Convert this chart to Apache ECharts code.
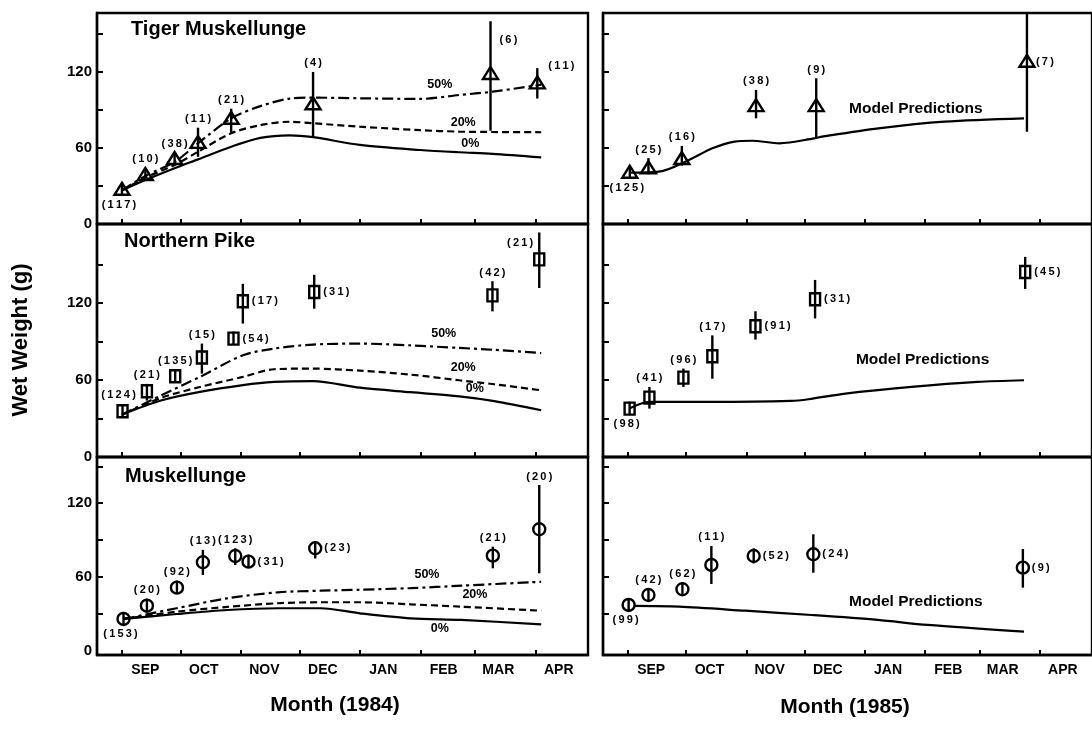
<!DOCTYPE html>
<html>
<head>
<meta charset="utf-8">
<script src="https://cdn.jsdelivr.net/npm/echarts@6/dist/echarts.min.js"></script>
<style>
  html, body { margin: 0; background: #fff; }
  #chart { width: 1092px; height: 741px; }
</style>
</head>
<body>
<div id="chart"></div>
<script>
// x is days after 1 September
const MONTHS = ['SEP', 'OCT', 'NOV', 'DEC', 'JAN', 'FEB', 'MAR', 'APR'];
const MONTH_START = [0, 30, 61, 91, 122, 153, 181, 212];
const MONTH_LABEL_DAY = [12, 42, 73, 103, 134, 165, 193, 224];
const Y_LABELS = [0, 60, 120];
const Y_TICKS = [30, 60, 90, 120, 150];

// Tiger muskellunge 1984
const tigerDays84 = [0, 12, 27, 39, 56, 98, 189, 213];
const tigerWt84 = [27, 38.7, 51.3, 64, 83, 94.5, 118.4, 111];
const tigerLo84 = [27, 37, 49, 53, 72, 68, 73.6, 99];
const tigerHi84 = [27, 40, 53, 76, 91, 120, 160, 123];
const tigerN84 = [117, 10, 38, 11, 21, 4, 6, 11];
const tigerCurveDays84 = [0, 12, 27, 39, 56, 71, 86, 98, 122, 153, 173, 190, 215];
const tiger0 = [26.5, 34.7, 44, 51, 61, 68, 70, 68.5, 62.4, 58.4, 56.6, 55.4, 52.6];
const tiger20 = [26.5, 36.5, 46.6, 57, 71.6, 78, 80.7, 79.5, 76.8, 74, 72.9, 72.6, 72.4];
const tiger50 = [26.5, 38, 49, 63.7, 83.4, 93, 99, 99.7, 99.2, 98.7, 101.8, 104.4, 110];

// Tiger muskellunge 1985
const tigerDays85 = [1, 10.6, 27.8, 66, 97, 205.5];
const tigerWt85 = [40.5, 44, 51.3, 93, 93, 128];
const tigerLo85 = [40.5, 42, 46, 83.4, 67.6, 72.8];
const tigerHi85 = [40.5, 52, 61.6, 105.8, 115, 175];
const tigerN85 = [125, 25, 16, 38, 9, 7];
const tigerCurveDays85 = [1, 16, 31.5, 43.5, 55, 64, 78, 96, 100, 129, 163, 204];
const tigerModel85 = [40.5, 41.3, 50.5, 59.7, 65, 65.7, 63.7, 67.6, 68.9, 75.5, 80.8, 83.4];

// Northern pike 1984
const pikeDays84 = [0.3, 12.8, 27.3, 41, 57.2, 62, 98.6, 190, 214];
const pikeWt84 = [35.6, 51.2, 62.9, 77.5, 92.3, 121.4, 128.6, 126, 154];
const pikeLo84 = [35.6, 44, 62.9, 65, 92.3, 104, 115.6, 113.5, 131.7];
const pikeHi84 = [35.6, 57, 62.9, 88.4, 92.3, 135, 142, 137, 175];
const pikeN84 = [124, 21, 135, 15, 54, 17, 31, 42, 21];
const pikeCurveDays84 = [0, 20, 40, 62, 78, 98, 122, 148, 173, 191, 215];
const pike0 = [33, 44, 50.7, 56, 58.5, 59.2, 54, 50.5, 47.3, 43.6, 36.4];
const pike20 = [33, 46, 54.6, 62.4, 68.4, 68.9, 67.3, 64.2, 59.8, 56.7, 52];
const pike50 = [33, 48, 62.4, 79.3, 84.5, 87.6, 88.4, 87, 85, 83.5, 81];

// Northern pike 1985
const pikeDays85 = [0.9, 11.1, 28.6, 43.5, 65.7, 96.4, 204.6];
const pikeWt85 = [37.7, 46.3, 61.9, 78.5, 101.9, 122.9, 144.2];
const pikeLo85 = [37.7, 37.7, 54.6, 61, 91.5, 108, 131];
const pikeHi85 = [37.7, 54.6, 68.9, 94.8, 113.6, 138, 156];
const pikeN85 = [98, 41, 96, 17, 91, 31, 45];
const pikeCurveDays85 = [1, 11, 43.5, 84, 93, 112, 146, 180, 204];
const pikeModel85 = [38, 43, 42.9, 43.7, 45, 49.4, 54.6, 58.5, 59.8];

// Muskellunge 1984
const muskyDays84 = [0.8, 12.8, 28.2, 41.5, 58.1, 64.9, 99.1, 190.2, 214];
const muskyWt84 = [25.7, 36.5, 51.2, 71.9, 77, 72.4, 83.3, 77.3, 98.8];
const muskyLo84 = [25.7, 34, 49, 61.5, 69.7, 70, 75, 67, 62.9];
const muskyHi84 = [25.7, 39, 53.5, 82, 83.3, 75, 87.4, 84.6, 134.9];
const muskyN84 = [153, 20, 92, 13, 123, 31, 23, 21, 20];
const muskyCurveDays84 = [1, 28, 54, 80, 102, 122, 148, 174, 215];
const musky0 = [25.7, 29.7, 33, 34.4, 34.4, 30.3, 26.2, 24.9, 21.3];
const musky20 = [25.7, 31.6, 35.5, 38.5, 39.3, 39.3, 37.6, 35.7, 32.4];
const musky50 = [25.7, 34.4, 42.5, 47.4, 48.7, 49.5, 50.8, 52.8, 56];

// Muskellunge 1985
const muskyDays85 = [0.4, 10.6, 28.1, 43, 64.8, 95.5, 203.4];
const muskyWt85 = [37.1, 45.2, 49.9, 69.7, 77, 78.4, 67.5];
const muskyLo85 = [37.1, 43, 48, 54.2, 71, 63.4, 51.2];
const muskyHi85 = [37.1, 47.5, 52, 85.2, 83.3, 94.7, 82.7];
const muskyN85 = [99, 42, 62, 11, 52, 24, 9];
const muskyCurveDays85 = [3.4, 26.4, 60.5, 94.6, 128.7, 154.3, 204];
const muskyModel85 = [36.3, 35.7, 32.4, 28.9, 24.9, 20.8, 15.3];

// curve tags: [text, day, weight]
const tigerNotes84 = [['50%', 163, 109.7], ['20%', 175, 80], ['0%', 178.6, 63.7]];
const pikeNotes84 = [['50%', 165, 96.4], ['20%', 175, 69.6], ['0%', 181, 53.5]];
const muskyNotes84 = [['50%', 156.4, 61.5], ['20%', 181, 45.2], ['0%', 163, 18.1]];
const tigerNotes85 = [['Model Predictions', 148.3, 91.3]];
const pikeNotes85 = [['Model Predictions', 151.8, 75.6]];
const muskyNotes85 = [['Model Predictions', 148.3, 39.8]];

// ---- layout & style ----
const FONT = '"Liberation Sans", Arial, Helvetica, sans-serif';
const cols = [{ left: 97, width: 491 }, { left: 603, width: 492 }];
const rows = [
  { top: 13, height: 211, min: 0, max: 166.5 },
  { top: 224, height: 233, min: 0, max: 181.6 },
  { top: 457, height: 198, min: -3.7, max: 157.7 }
];
const LINE_TYPES = ['solid', [7, 4], [11, 4, 3, 4]];

const panels = [
  { row: 0, col: 0, marker: 'triangle', days: tigerDays84, wt: tigerWt84, lo: tigerLo84, hi: tigerHi84, n: tigerN84,
    pos: ['bottom', 'top', 'top', 'top', 'top', 'top', 'topright', 'upright'],
    cDays: tigerCurveDays84, curves: [tiger0, tiger20, tiger50], notes: tigerNotes84 },
  { row: 0, col: 1, marker: 'triangle', days: tigerDays85, wt: tigerWt85, lo: tigerLo85, hi: tigerHi85, n: tigerN85,
    pos: ['bottom', 'top', 'top', 'top', 'top', 'right'],
    cDays: tigerCurveDays85, curves: [tigerModel85], notes: tigerNotes85 },
  { row: 1, col: 0, marker: 'square', days: pikeDays84, wt: pikeWt84, lo: pikeLo84, hi: pikeHi84, n: pikeN84,
    pos: ['topleft', 'top', 'top', 'top', 'right', 'right', 'right', 'top', 'lefttop'],
    cDays: pikeCurveDays84, curves: [pike0, pike20, pike50], notes: pikeNotes84 },
  { row: 1, col: 1, marker: 'square', days: pikeDays85, wt: pikeWt85, lo: pikeLo85, hi: pikeHi85, n: pikeN85,
    pos: ['bottom', 'top', 'top', 'top', 'right', 'right', 'right'],
    cDays: pikeCurveDays85, curves: [pikeModel85], notes: pikeNotes85 },
  { row: 2, col: 0, marker: 'circle', days: muskyDays84, wt: muskyWt84, lo: muskyLo84, hi: muskyHi84, n: muskyN84,
    pos: ['bottom', 'top', 'top', 'top', 'top', 'right', 'right', 'top', 'top'],
    cDays: muskyCurveDays84, curves: [musky0, musky20, musky50], notes: muskyNotes84 },
  { row: 2, col: 1, marker: 'circle', days: muskyDays85, wt: muskyWt85, lo: muskyLo85, hi: muskyHi85, n: muskyN85,
    pos: ['bottom', 'top', 'top', 'top', 'right', 'right', 'right'],
    cDays: muskyCurveDays85, curves: [muskyModel85], notes: muskyNotes85 }
];

// the original typesetting spaces out the sample sizes
function spaced(s) { return String(s).split('').join('\u2009'); }

function markerShape(kind, x, y) {
  const st = { fill: null, stroke: '#000', lineWidth: 2.4 };
  if (kind === 'triangle') {
    return { type: 'polygon', shape: { points: [[x, y - 7], [x - 7.5, y + 5], [x + 7.5, y + 5]] }, style: st };
  }
  if (kind === 'square') {
    return { type: 'rect', shape: { x: x - 5, y: y - 6, width: 10, height: 12 }, style: st };
  }
  return { type: 'circle', shape: { cx: x, cy: y, r: 6 }, style: st };
}

function pointRenderer(p) {
  return function (params, api) {
    const i = params.dataIndex;
    const c = api.coord([api.value(0), api.value(1)]);
    const yLo = api.coord([api.value(0), api.value(2)])[1];
    const yHi = api.coord([api.value(0), api.value(3)])[1];
    const top = Math.min(yHi, c[1] - 7);
    const bot = Math.max(yLo, c[1] + 6);
    const label = spaced('(' + p.n[i] + ')');
    const where = p.pos[i];
    let tx = c[0], ty = c[1], align = 'center', va = 'middle';
    if (where === 'top') { ty = top - 3; va = 'bottom'; }
    else if (where === 'bottom') { tx = c[0] - 3; ty = bot + 4; va = 'top'; }
    else if (where === 'right') { tx = c[0] + 9; align = 'left'; }
    else if (where === 'topright') { tx = c[0] + 9; ty = yHi + 19; align = 'left'; }
    else if (where === 'upright') { tx = c[0] + 11; ty = c[1] - 17; align = 'left'; }
    else if (where === 'topleft') { tx = c[0] - 4; ty = top - 4; va = 'bottom'; }
    else if (where === 'lefttop') { tx = c[0] - 6; ty = yHi + 11; align = 'right'; }
    return {
      type: 'group',
      children: [
        { type: 'line', shape: { x1: c[0], y1: top, x2: c[0], y2: bot }, style: { stroke: '#000', lineWidth: 2.4 } },
        markerShape(p.marker, c[0], c[1]),
        { type: 'text', x: tx, y: ty,
          style: { text: label, font: 'bold 11px ' + FONT, fill: '#000', align: align, verticalAlign: va } }
      ]
    };
  };
}

function noteRenderer(params, api) {
  const c = api.coord([api.value(1), api.value(2)]);
  const txt = api.value(0);
  return {
    type: 'text', x: c[0], y: c[1],
    style: { text: txt, font: (txt.length > 4 ? 'bold 15.5px ' : 'bold 12.5px ') + FONT,
      fill: '#000', align: 'center', verticalAlign: 'middle' }
  };
}

const grid = [], xAxis = [], yAxis = [], series = [];
panels.forEach(function (p, k) {
  const r = rows[p.row], cl = cols[p.col];
  grid.push({ left: cl.left, width: cl.width, top: r.top, height: r.height,
    show: true, borderColor: '#000', borderWidth: 2.4, backgroundColor: 'transparent' });
  xAxis.push({
    gridIndex: k, type: 'value', min: -12.8, max: 239,
    axisLine: { show: true, onZero: false, lineStyle: { color: '#000', width: 2.4 } },
    axisTick: { show: true, inside: true, length: 5, customValues: MONTH_START, lineStyle: { color: '#000', width: 2 } },
    axisLabel: { show: p.row === 2, customValues: MONTH_LABEL_DAY, margin: 8,
      color: '#000', fontFamily: FONT, fontWeight: 'bold', fontSize: 14,
      formatter: function (v) { return MONTHS[MONTH_LABEL_DAY.indexOf(v)] || ''; } },
    splitLine: { show: false }
  });
  yAxis.push({
    gridIndex: k, type: 'value', min: r.min, max: r.max,
    axisLine: { show: true, onZero: false, lineStyle: { color: '#000', width: 2.4 } },
    axisTick: { show: true, inside: true, length: 6, customValues: Y_TICKS, lineStyle: { color: '#000', width: 2 } },
    axisLabel: { show: p.col === 0, customValues: Y_LABELS, margin: 5,
      color: '#000', fontFamily: FONT, fontWeight: 'bold', fontSize: 15 },
    splitLine: { show: false }
  });
  p.curves.forEach(function (vals, j) {
    series.push({
      type: 'line', xAxisIndex: k, yAxisIndex: k, smooth: 0.3, showSymbol: false, silent: true,
      data: p.cDays.map(function (d, m) { return [d, vals[m]]; }),
      lineStyle: { color: '#000', width: 2.2, type: LINE_TYPES[j] }, z: 2
    });
  });
  series.push({
    type: 'custom', xAxisIndex: k, yAxisIndex: k, clip: true, z: 5,
    data: p.days.map(function (d, m) { return [d, p.wt[m], p.lo[m], p.hi[m]]; }),
    renderItem: pointRenderer(p)
  });
  series.push({
    type: 'custom', xAxisIndex: k, yAxisIndex: k, z: 4,
    dimensions: [{ name: 'text', type: 'ordinal' }, 'x', 'y'],
    encode: { x: 1, y: 2 },
    data: p.notes,
    renderItem: noteRenderer
  });
});

const titleStyle = { font: 'bold 20px ' + FONT, fill: '#000' };
const chart = echarts.init(document.getElementById('chart'), null, { renderer: 'canvas' });
chart.setOption({
  animation: false,
  backgroundColor: '#fff',
  grid: grid, xAxis: xAxis, yAxis: yAxis, series: series,
  graphic: [
    { type: 'text', left: 131, top: 19, style: Object.assign({ text: 'Tiger Muskellunge' }, titleStyle) },
    { type: 'text', left: 124, top: 231, style: Object.assign({ text: 'Northern Pike' }, titleStyle) },
    { type: 'text', left: 125, top: 466, style: Object.assign({ text: 'Muskellunge' }, titleStyle) },
    { type: 'text', x: 21, y: 340, rotation: Math.PI / 2,
      style: { text: 'Wet Weight (g)', font: 'bold 22px ' + FONT, fill: '#000', align: 'center', verticalAlign: 'middle' } },
    { type: 'text', x: 335, y: 705,
      style: { text: 'Month (1984)', font: 'bold 21px ' + FONT, fill: '#000', align: 'center', verticalAlign: 'middle' } },
    { type: 'text', x: 845, y: 707,
      style: { text: 'Month (1985)', font: 'bold 21px ' + FONT, fill: '#000', align: 'center', verticalAlign: 'middle' } }
  ]
});
</script>
</body>
</html>
